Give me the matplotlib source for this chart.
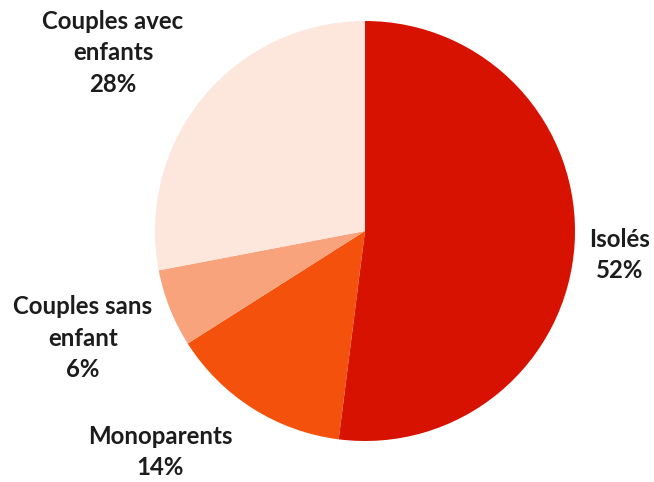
import matplotlib.pyplot as plt

# Répartition des ménages
categories = ['Isolés', 'Monoparents', 'Couples sans\nenfant', 'Couples avec\nenfants']
parts = [52, 14, 6, 28]
colors = ['#d81200', '#f4520c', '#f8a37b', '#fde7dc']

# positions des étiquettes (pixels)
label_xy = [(620, 255), (160, 452), (83, 338), (113, 53)]

W, H = 654, 482
fig = plt.figure(figsize=(W / 100, H / 100), dpi=100)
ax = fig.add_axes([0, 0, 1, 1])

ax.pie(parts, colors=colors, startangle=90, counterclock=False,
       center=(365, H - 231), radius=210,
       wedgeprops=dict(linewidth=0))

for cat, val, (x, y) in zip(categories, parts, label_xy):
    ax.text(x, H - y, f'{cat}\n{val}%', ha='center', va='center',
            fontsize=17.3, fontweight='bold', family='Lato', color='#1c1c1c',
            linespacing=1.47)

ax.set_xlim(0, W)
ax.set_ylim(0, H)
ax.set_aspect('equal')
ax.axis('off')

fig.savefig('out.png', dpi=100, facecolor='white')
